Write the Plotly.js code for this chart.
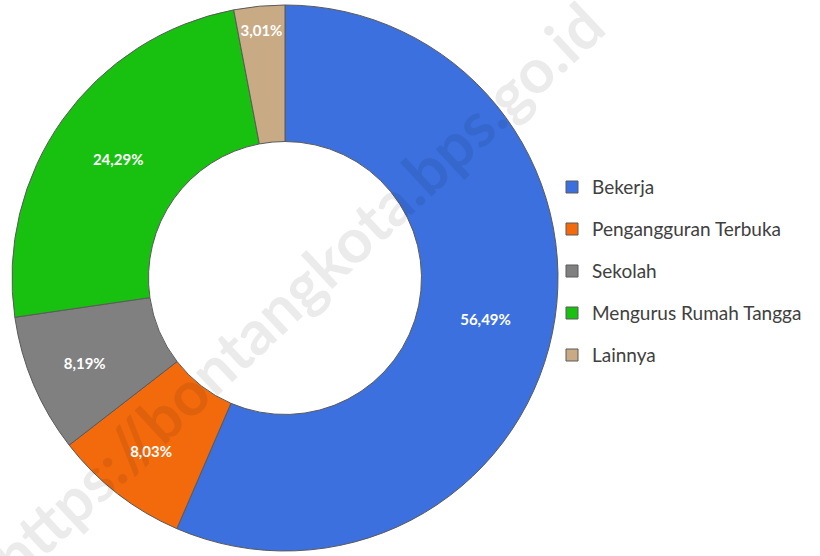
<!DOCTYPE html>
<html><head><meta charset="utf-8">
<script src="https://cdn.plot.ly/plotly-3.0.1.min.js"></script>
<style>html,body{margin:0;padding:0;background:#fff}#chart{width:820px;height:556px}</style>
</head><body><div id="chart"></div>
<script>
var categories = ["Bekerja", "Pengangguran Terbuka", "Sekolah", "Mengurus Rumah Tangga", "Lainnya"];
var values = [56.49, 8.03, 8.19, 24.29, 3.01];
var valueLabels = ["56,49%", "8,03%", "8,19%", "24,29%", "3,01%"];
var colors = ["#3b70de", "#f26a0c", "#808080", "#18c010", "#c8aa84"];

var legendLabels = categories.map(function(c){
  return '<span style="font-size:19px;baseline-shift:5px">' + c + '</span>';
});

var trace = {
  type: "pie",
  labels: legendLabels,
  values: values,
  text: valueLabels,
  textinfo: "text",
  texttemplate: "%{text}",
  textposition: "inside",
  insidetextorientation: "horizontal",
  textfont: {family: "Lato, 'Liberation Sans', sans-serif", size: 15, color: "#ffffff", weight: "bold"},
  hole: 0.5,
  sort: false,
  direction: "clockwise",
  rotation: 0,
  marker: {colors: colors, line: {color: "#5a5a5a", width: 1}},
  domain: {x: [10/820, 560/820], y: [5/556, 551/556]},
  hoverinfo: "none"
};

var layout = {
  width: 820, height: 556,
  margin: {l: 0, r: 0, t: 0, b: 0},
  paper_bgcolor: "#ffffff",
  showlegend: true,
  uniformtext: {mode: "show", minsize: 15},
  legend: {
    x: 552/820, xanchor: "left",
    y: 1 - 271/556, yanchor: "middle",
    font: {family: "Lato, 'Liberation Sans', sans-serif", size: 30, color: "#404040"},
    bgcolor: "rgba(0,0,0,0)"
  },
  annotations: [{
    text: "https://bontangkota.bps.go.id",
    xref: "paper", yref: "paper",
    x: 296/820, y: 1 - 290/556,
    showarrow: false,
    textangle: -43,
    font: {family: "Lato, 'Liberation Sans', sans-serif", size: 62, color: "rgba(0,0,0,0.08)", weight: "bold"}
  }]
};

Plotly.newPlot("chart", [trace], layout, {displayModeBar: false, staticPlot: true});
</script>
</body></html>
